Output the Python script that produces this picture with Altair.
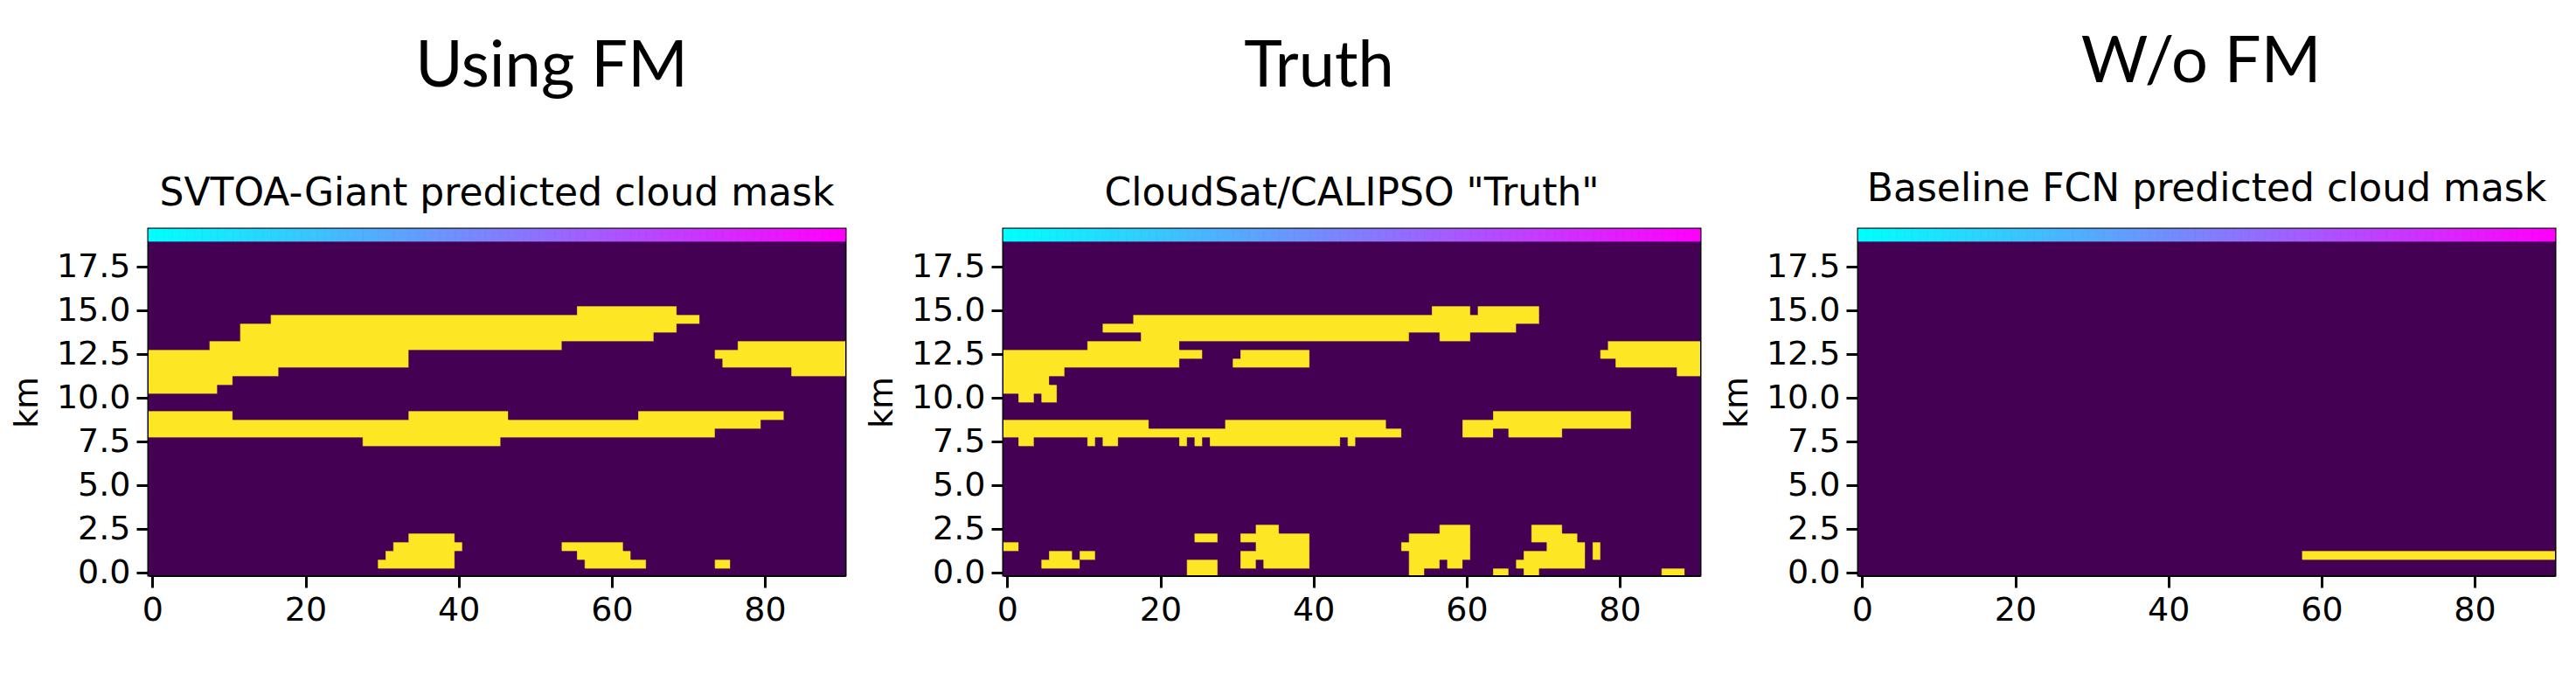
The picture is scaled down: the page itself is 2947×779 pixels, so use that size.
import altair as alt
import pandas as pd

# ---------------- data ----------------
N_COLS = 91            # along-track profile index 0..90
N_ROWS = 39            # height bins, 0.5 km apart (0.0 .. 19.0 km)
ROW_KM = 0.5
Y_MIN, Y_MAX = -0.15, 19.65
BAR_BOTTOM = 18.95     # colour strip on top of each panel

x_ticks = [0, 20, 40, 60, 80]
y_ticks = [0.0, 2.5, 5.0, 7.5, 10.0, 12.5, 15.0, 17.5]

big_titles = ["Using FM", "Truth", "W/o FM"]
sub_titles = ["SVTOA-Giant predicted cloud mask",
              'CloudSat/CALIPSO "Truth"',
              "Baseline FCN predicted cloud mask"]

# cloudy runs: (height row, first column, last column)
svtoa_runs = [
    (30, 56, 68), (29, 16, 71), (28, 12, 68), (27, 12, 65),
    (26, 8, 53), (26, 77, 90), (25, 0, 33), (25, 74, 90),
    (24, 0, 33), (24, 75, 90), (23, 0, 16), (23, 84, 90),
    (22, 0, 10), (21, 0, 8),
    (18, 0, 10), (18, 34, 46), (18, 64, 82), (17, 0, 79), (16, 0, 73), (15, 28, 45),
    (4, 34, 39), (3, 32, 40), (3, 54, 61), (2, 31, 39), (2, 56, 62),
    (1, 30, 39), (1, 57, 64), (1, 74, 75),
]

truth_runs = [
    (30, 56, 60), (30, 62, 69), (29, 17, 69), (28, 13, 66),
    (27, 18, 52), (27, 57, 60),
    (26, 11, 22), (26, 79, 90), (25, 0, 25), (25, 31, 39), (25, 78, 90),
    (24, 0, 22), (24, 30, 39), (24, 80, 90), (23, 0, 7), (23, 88, 90),
    (22, 0, 5), (21, 0, 6), (20, 2, 3), (20, 5, 6),
    (18, 64, 81), (17, 0, 18), (17, 29, 49), (17, 60, 81),
    (16, 0, 51), (16, 60, 63), (16, 66, 72),
    (15, 2, 3), (15, 11, 11), (15, 13, 14), (15, 23, 23), (15, 25, 25),
    (15, 27, 43), (15, 45, 45),
    (5, 33, 35), (5, 57, 60), (5, 69, 72),
    (4, 25, 27), (4, 31, 39), (4, 53, 60), (4, 69, 74),
    (3, 0, 1), (3, 33, 39), (3, 52, 60), (3, 71, 75), (3, 77, 77),
    (2, 6, 8), (2, 10, 11), (2, 31, 39), (2, 53, 60), (2, 68, 75), (2, 77, 77),
    (1, 5, 9), (1, 24, 27), (1, 31, 32), (1, 34, 39), (1, 53, 56), (1, 58, 59),
    (1, 67, 75),
    (0, 24, 27), (0, 53, 54), (0, 64, 65), (0, 68, 69), (0, 86, 88),
]

baseline_runs = [(2, 58, 90)]

all_runs = [svtoa_runs, truth_runs, baseline_runs]

# ---------------- styles ----------------
PURPLE = "#440154"
YELLOW = "#fde725"
FONT = "DejaVu Sans"
BIG_FONT = "Lato"
W, H = 797, 396
title_dx = [461, 361, 392]     # big-title centre measured from the plot's left edge
extra_top = [0, 0, 5]


def grid_table(runs):
    mask = [[0] * N_COLS for _ in range(N_ROWS)]
    for r, a, b in runs:
        for c in range(a, b + 1):
            mask[r][c] = 1
    recs = []
    for r in range(N_ROWS):
        c = 0
        while c < N_COLS:
            v, s = mask[r][c], c
            while c < N_COLS and mask[r][c] == v:
                c += 1
            recs.append({"x0": s - 0.5, "x1": c - 0.5,
                         "y0": r * ROW_KM - ROW_KM / 2, "y1": r * ROW_KM + ROW_KM / 2,
                         "v": v})
    return pd.DataFrame(recs)


strip_table = pd.DataFrame({
    "x0": [c - 0.5 for c in range(N_COLS)],
    "x1": [c + 0.5 for c in range(N_COLS)],
    "y0": [BAR_BOTTOM] * N_COLS,
    "y1": [Y_MAX] * N_COLS,
    "t": [c / (N_COLS - 1) for c in range(N_COLS)],
})

x_scale = alt.Scale(domain=[-0.5, N_COLS - 0.5], nice=False, zero=False)
y_scale = alt.Scale(domain=[Y_MIN, Y_MAX], nice=False, zero=False)
x_axis = alt.Axis(values=x_ticks, format="d", title=None)
y_axis = alt.Axis(values=y_ticks, format=".1f", title="km")
cool = alt.Scale(domain=[0, 1], range=["#00ffff", "#ff00ff"], interpolate="rgb")
mask_scale = alt.Scale(domain=[0, 1], range=[PURPLE, YELLOW])


def panel(i):
    cells = alt.Chart(grid_table(all_runs[i])).mark_rect(clip=True, strokeWidth=0.7).encode(
        x=alt.X("x0:Q", scale=x_scale, axis=x_axis),
        x2="x1:Q",
        y=alt.Y("y0:Q", scale=y_scale, axis=y_axis),
        y2="y1:Q",
        color=alt.Color("v:Q", scale=mask_scale, legend=None),
        stroke=alt.Stroke("v:Q", scale=mask_scale, legend=None),
    )
    strip = alt.Chart(strip_table).mark_rect(strokeWidth=0.8).encode(
        x=alt.X("x0:Q", scale=x_scale, axis=x_axis),
        x2="x1:Q",
        y=alt.Y("y0:Q", scale=y_scale, axis=y_axis),
        y2="y1:Q",
        color=alt.Color("t:Q", scale=cool, legend=None),
        stroke=alt.Stroke("t:Q", scale=cool, legend=None),
    )
    view = alt.layer(cells, strip).resolve_scale(
        color="independent", stroke="independent"
    ).properties(
        width=W, height=H,
        title=alt.TitleParams(sub_titles[i], font=FONT, fontSize=44, fontWeight="normal",
                              color="black", anchor="middle", frame="group",
                              offset=18 + extra_top[i]),
    )
    return alt.vconcat(view, title=alt.TitleParams(
        big_titles[i], font=BIG_FONT, fontSize=74, fontWeight="normal", color="black",
        anchor="middle", frame="group", dx=title_dx[i], offset=83))


chart = alt.hconcat(panel(0), panel(1), panel(2), spacing=19).properties(
    padding={"left": 2, "top": 27, "right": 5, "bottom": 5}
).configure_view(
    stroke="black", strokeWidth=3, fill=PURPLE
).configure_axis(
    labelFont=FONT, labelFontSize=38, labelColor="black", labelPadding=7,
    tickColor="black", tickWidth=3, tickSize=14,
    domainColor="black", domainWidth=3, grid=False, zindex=1,
    titleFont=FONT, titleFontSize=38, titleFontWeight="normal", titleColor="black",
    titlePadding=14,
).configure_concat(spacing=19)

chart.save("out.html", embed_options={"renderer": "svg", "actions": False})
